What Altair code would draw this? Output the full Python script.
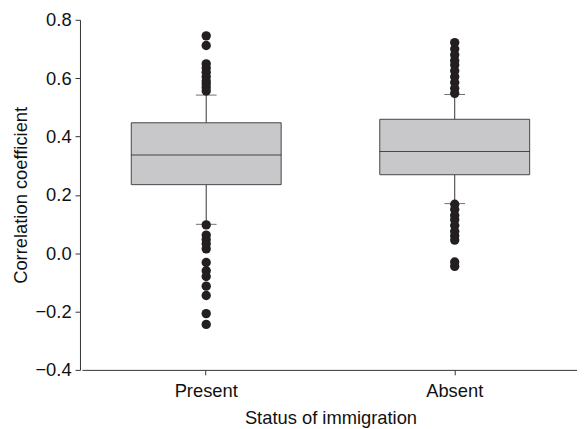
import altair as alt
import pandas as pd

categories = ["Present", "Absent"]
q1 = [0.235, 0.269]
median = [0.337, 0.349]
q3 = [0.447, 0.459]
whisker_low = [0.099, 0.170]
whisker_high = [0.542, 0.544]

outliers_present = [0.745, 0.712, 0.649, 0.635, 0.620, 0.605, 0.590, 0.580, 0.568, 0.556,
                    0.097, 0.062, 0.047, 0.032, 0.015, -0.032, -0.060, -0.080, -0.113,
                    -0.145, -0.207, -0.244]
outliers_absent = [0.722, 0.700, 0.680, 0.660, 0.645, 0.625, 0.605, 0.585, 0.565, 0.548,
                   0.168, 0.150, 0.130, 0.115, 0.095, 0.075, 0.060, 0.045, -0.030, -0.045]

stats = pd.DataFrame({
    "category": categories,
    "q1": q1, "median": median, "q3": q3,
    "wlo": whisker_low, "whi": whisker_high,
})
out = pd.DataFrame({
    "category": ["Present"] * len(outliers_present) + ["Absent"] * len(outliers_absent),
    "value": outliers_present + outliers_absent,
})

font = "Liberation Sans"
x = alt.X("category:N", sort=categories,
          scale=alt.Scale(range=[2, 506], paddingInner=0.4, paddingOuter=0.2),
          axis=alt.Axis(title="Status of immigration", labelAngle=0, labelPadding=7,
                        titlePadding=9))
yscale = alt.Scale(domain=[-0.4, 0.8], nice=False, zero=False)
yaxis = alt.Axis(title="Correlation coefficient", values=[-0.4, -0.2, 0.0, 0.2, 0.4, 0.6, 0.8],
                 format=".1f", labelPadding=4, titlePadding=5)

base = alt.Chart(stats)
w_up = base.mark_rule(color="#333", strokeWidth=1).encode(
    x=x, y=alt.Y("q3:Q", scale=yscale, axis=yaxis), y2="whi:Q")
w_dn = base.mark_rule(color="#333", strokeWidth=1).encode(
    x=x, y=alt.Y("wlo:Q", scale=yscale, axis=yaxis), y2="q1:Q")
box = base.mark_bar(size=152, fill="#c8c8ca", stroke="#444", strokeWidth=1).encode(
    x=x, y=alt.Y("q1:Q", scale=yscale, axis=yaxis), y2="q3:Q")
med = base.mark_tick(size=152, thickness=1, color="#111").encode(
    x=x, y=alt.Y("median:Q", scale=yscale, axis=yaxis))
cap_hi = base.mark_tick(size=21, thickness=1, color="#333").encode(
    x=x, y=alt.Y("whi:Q", scale=yscale, axis=yaxis))
cap_lo = base.mark_tick(size=21, thickness=1, color="#333").encode(
    x=x, y=alt.Y("wlo:Q", scale=yscale, axis=yaxis))
pts = alt.Chart(out).mark_circle(size=90, color="#231f20", opacity=1).encode(
    x=x, y=alt.Y("value:Q", scale=yscale, axis=yaxis))

chart = alt.layer(w_up, w_dn, box, med, cap_hi, cap_lo, pts).properties(
    width=504, height=355,
    autosize=alt.AutoSizeParams(type="none"),
    padding={"left": 73, "top": 9, "right": 0, "bottom": 60},
).configure_view(stroke=None).configure_axis(
    grid=False, domainColor="#333", tickColor="#333", tickSize=5,
    labelFont=font, titleFont=font, labelFontSize=18.6, titleFontSize=18.6,
    titleFontWeight="normal", labelColor="#111", titleColor="#111",
)

chart.save("out.html", embed_options={"renderer": "svg", "actions": False})
